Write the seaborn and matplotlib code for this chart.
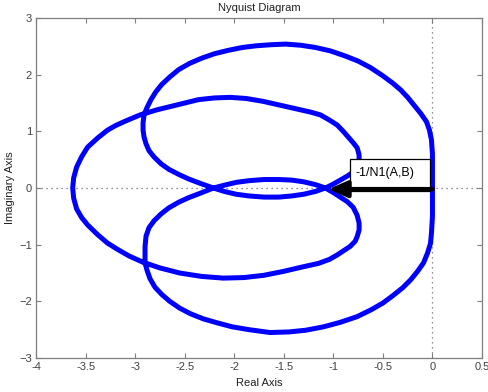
import pandas as pd
import matplotlib.pyplot as plt
import matplotlib.patches as mpatches
import seaborn as sns

# Nyquist curve, in drawing order
# upper part: origin -> outer arc -> small lower arc -> right turn -> left loop top
re_upper = [0.00, 0.00, 0.00, -0.01, -0.03, -0.06, -0.12, -0.18, -0.25, -0.32,
            -0.40, -0.50, -0.63, -0.75, -0.88, -1.03, -1.18, -1.33, -1.48, -1.62,
            -1.78, -1.92, -2.06, -2.20, -2.33, -2.45, -2.56, -2.65, -2.73, -2.79,
            -2.84, -2.88, -2.91, -2.92, -2.92, -2.91, -2.89, -2.86, -2.81, -2.74,
            -2.66, -2.56, -2.46, -2.34, -2.21,
            -2.10, -1.98, -1.85, -1.70, -1.55, -1.42, -1.30, -1.18, -1.08,
            -1.00, -0.93, -0.86, -0.80, -0.77, -0.75, -0.74, -0.74, -0.75, -0.76,
            -0.80, -0.85, -0.90, -0.96, -1.04, -1.13, -1.23, -1.33, -1.50, -1.71,
            -1.88, -2.04, -2.20, -2.36, -2.50, -2.62, -2.78, -2.95, -3.10, -3.20,
            -3.28, -3.38, -3.48, -3.54, -3.59, -3.62, -3.63]
im_upper = [0.00, 0.30, 0.60, 0.85, 1.02, 1.17, 1.32, 1.45, 1.60, 1.73,
            1.85, 1.98, 2.13, 2.24, 2.33, 2.42, 2.48, 2.52, 2.54, 2.53,
            2.51, 2.48, 2.43, 2.37, 2.29, 2.20, 2.09, 1.96, 1.83, 1.70,
            1.56, 1.42, 1.29, 1.15, 1.02, 0.90, 0.78, 0.66, 0.55, 0.43,
            0.33, 0.24, 0.16, 0.08, 0.00,
            -0.06, -0.11, -0.14, -0.16, -0.16, -0.14, -0.11, -0.06, 0.00,
            0.07, 0.14, 0.21, 0.28, 0.36, 0.44, 0.51, 0.58, 0.65, 0.71,
            0.80, 0.90, 1.00, 1.11, 1.20, 1.29, 1.34, 1.38, 1.45, 1.53,
            1.58, 1.60, 1.59, 1.56, 1.50, 1.45, 1.38, 1.29, 1.18, 1.10,
            1.02, 0.88, 0.72, 0.55, 0.37, 0.18, 0.00]

# lower part: left loop bottom -> right turn -> small upper arc -> outer arc -> origin
re_lower = [-3.62, -3.59, -3.54, -3.48, -3.38, -3.28, -3.18, -3.06, -2.92, -2.75,
            -2.55, -2.33, -2.11, -1.90, -1.70, -1.50, -1.33, -1.15, -1.04, -0.96,
            -0.89, -0.83, -0.78, -0.76, -0.74, -0.74, -0.76, -0.80, -0.86, -0.93,
            -1.00, -1.08,
            -1.18, -1.30, -1.42, -1.55, -1.70, -1.85, -1.98, -2.10, -2.21,
            -2.34, -2.46, -2.56, -2.66, -2.74, -2.81, -2.86, -2.89, -2.90, -2.90,
            -2.90, -2.88, -2.85, -2.80, -2.73, -2.65, -2.55, -2.44, -2.31, -2.17,
            -2.02, -1.85, -1.64, -1.45, -1.28, -1.10, -0.93, -0.76, -0.62, -0.50,
            -0.40, -0.30, -0.22, -0.15, -0.09, -0.05, -0.02, -0.01, 0.00, 0.00,
            0.00]
im_lower = [-0.18, -0.37, -0.52, -0.65, -0.82, -0.97, -1.08, -1.20, -1.31, -1.41,
            -1.50, -1.56, -1.59, -1.58, -1.54, -1.47, -1.40, -1.33, -1.26, -1.18,
            -1.10, -1.03, -0.94, -0.86, -0.74, -0.62, -0.48, -0.34, -0.24, -0.16,
            -0.08, 0.00,
            0.06, 0.11, 0.14, 0.15, 0.15, 0.13, 0.10, 0.05, 0.00,
            -0.09, -0.17, -0.25, -0.35, -0.46, -0.58, -0.70, -0.85, -1.04, -1.18,
            -1.32, -1.45, -1.60, -1.75, -1.88, -2.00, -2.12, -2.22, -2.31, -2.38,
            -2.45, -2.50, -2.55, -2.54, -2.51, -2.45, -2.37, -2.27, -2.15, -2.03,
            -1.90, -1.76, -1.62, -1.47, -1.32, -1.15, -0.98, -0.80, -0.50, -0.20,
            0.00]

xticks = [-4, -3.5, -3, -2.5, -2, -1.5, -1, -0.5, 0, 0.5]
xtick_labels = ["-4", "-3.5", "-3", "-2.5", "-2", "-1.5", "-1", "-0.5", "0", "0.5"]
yticks = [-3, -2, -1, 0, 1, 2, 3]

# critical point -1/N1(A,B)
crit_re = -1.05
crit_im = 0.0
label = "-1/N1(A,B)"

sns.set_style("ticks", {
    "axes.edgecolor": "#7f7f7f",
    "xtick.direction": "in",
    "ytick.direction": "in",
    "xtick.color": "#7f7f7f",
    "ytick.color": "#7f7f7f",
    "axes.grid": False,
})
plt.rcParams["font.family"] = ["Liberation Sans", "DejaVu Sans"]

df = pd.DataFrame({
    "re": re_upper + re_lower,
    "im": im_upper + im_lower,
})

fig = plt.figure(figsize=(4.88, 3.92), dpi=100)
ax = fig.add_axes([0.0738, 0.0867, 0.9139, 0.8673])

ax.axhline(0, color="#6f6f6f", lw=0.9, ls=(0, (1, 3)), zorder=1)
ax.axvline(0, color="#6f6f6f", lw=0.9, ls=(0, (1, 3)), zorder=1)

sns.lineplot(data=df, x="re", y="im", sort=False, estimator=None,
             color="#0000ff", lw=3.6, ax=ax, zorder=2,
             solid_joinstyle="round", solid_capstyle="round")

# text arrow box
box = mpatches.Rectangle((-0.83, -0.06), 0.81, 0.57, facecolor="white",
                         edgecolor="black", lw=0.9, zorder=3)
ax.add_patch(box)
ax.text(-0.78, 0.26, label, fontsize=9, color="black", va="center",
        ha="left", zorder=4)
ax.annotate("", xy=(crit_re, crit_im - 0.02), xytext=(0.0, -0.02),
            arrowprops=dict(arrowstyle="-|>,head_length=0.8,head_width=0.35",
                            color="black", lw=3.2, shrinkA=0, shrinkB=0,
                            mutation_scale=14),
            zorder=5)

ax.set_xlim(-4, 0.5)
ax.set_ylim(-3, 3)
ax.set_xticks(xticks)
ax.set_xticklabels(xtick_labels)
ax.set_yticks(yticks)
ax.tick_params(axis="both", which="both", length=3.5, width=0.8,
               labelsize=8, labelcolor="#404040", top=True, right=True,
               pad=3)
for side in ax.spines.values():
    side.set_linewidth(0.9)

ax.set_title("Nyquist Diagram", fontsize=8, color="#202020", pad=5)
ax.set_xlabel("Real Axis", fontsize=8, color="#202020", labelpad=4)
ax.set_ylabel("Imaginary Axis", fontsize=8, color="#202020", labelpad=3)

fig.savefig("out.png", dpi=100)
